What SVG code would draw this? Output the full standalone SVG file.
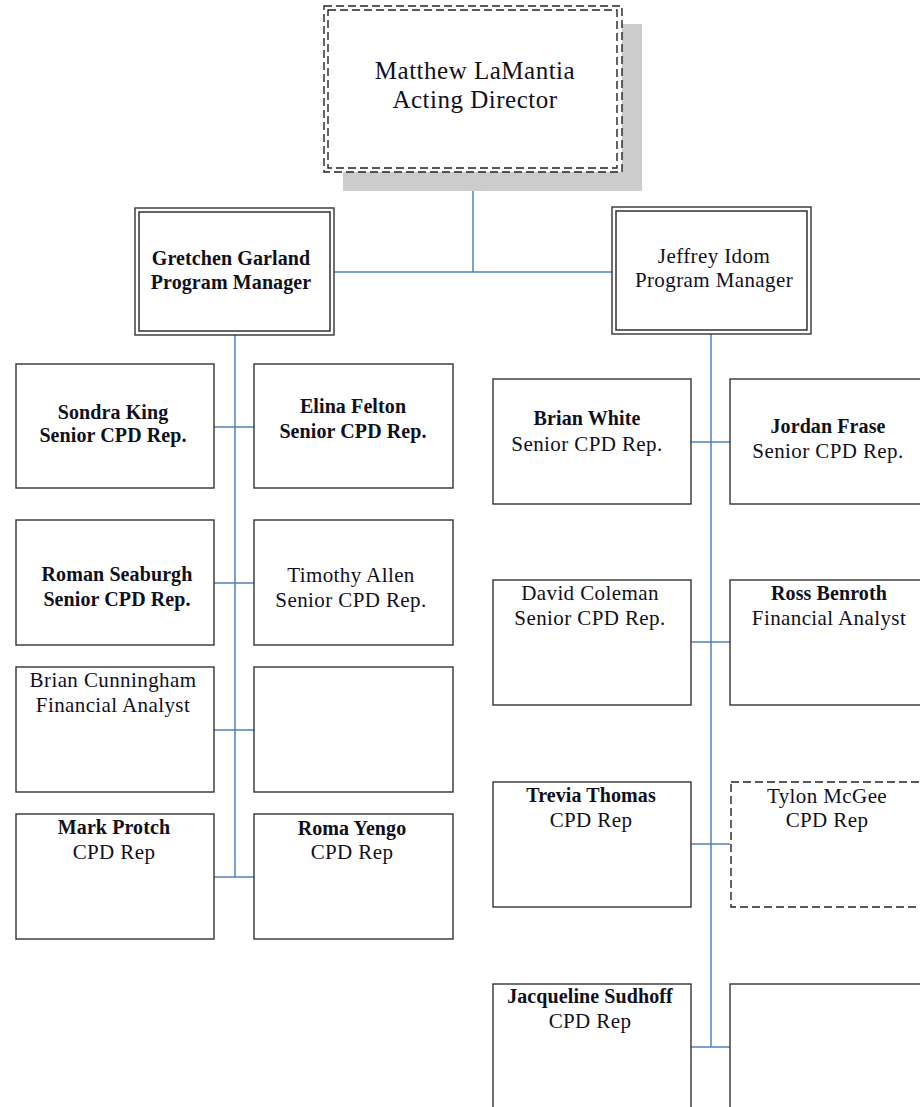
<svg xmlns="http://www.w3.org/2000/svg" width="920" height="1107" viewBox="0 0 920 1107">
<style>
.bx{fill:#fff;stroke:#333;stroke-width:1.4}
.dl{fill:none;stroke:#222;stroke-width:1.4}
.ds{fill:none;stroke:#222;stroke-width:1.4;stroke-dasharray:8 4}
.t{font-family:"Liberation Serif","Times New Roman",serif;font-size:21px;fill:#10101c;text-anchor:middle;letter-spacing:0.4px}
.b{font-weight:bold;font-size:20px;letter-spacing:0.1px}
.big{font-size:25px;letter-spacing:0.5px}
.cn{fill:none;stroke:#4f81bd;stroke-width:1.5}
</style>
<rect width="920" height="1107" fill="#fff"/>
<g id="connectors">
<path class="cn" d="M473 172V272M334 272H612"/>
<path class="cn" d="M235 335V877M214 427H254M214 583H254M214 730H254M214 877H254"/>
<path class="cn" d="M711 334V1047M691 442H730M691 642H730M691 844H730M691 1047H730"/>
</g>
<g id="director">
<rect x="343" y="24" width="299" height="167" fill="#cccccc"/>
<rect x="324" y="6" width="298" height="166" fill="#fff"/>
<rect class="ds" x="324" y="6" width="298" height="166"/>
<rect class="ds" x="328" y="10" width="289" height="158"/>
<text class="t big" x="475" y="79">Matthew LaMantia</text>
<text class="t big" x="475" y="108">Acting Director</text>
</g>
<g id="gretchen">
<rect class="bx" x="135" y="208" width="199" height="127"/>
<rect class="dl" x="139" y="212" width="191" height="119"/>
<text class="t b" x="231" y="265">Gretchen Garland</text>
<text class="t b" x="231" y="289">Program Manager</text>
</g>
<g id="jeffrey">
<rect class="bx" x="612" y="207" width="199" height="127"/>
<rect class="dl" x="616" y="211" width="191" height="119"/>
<text class="t" x="714" y="263">Jeffrey Idom</text>
<text class="t" x="714" y="287">Program Manager</text>
</g>
<g id="sondra">
<rect class="bx" x="16" y="364" width="198" height="124"/>
<text class="t b" x="113" y="419">Sondra King</text>
<text class="t b" x="113" y="442">Senior CPD Rep.</text>
</g>
<g id="elina">
<rect class="bx" x="254" y="364" width="199" height="124"/>
<text class="t b" x="353" y="413">Elina Felton</text>
<text class="t b" x="353" y="438">Senior CPD Rep.</text>
</g>
<g id="roman">
<rect class="bx" x="16" y="520" width="198" height="125"/>
<text class="t b" x="117" y="581">Roman Seaburgh</text>
<text class="t b" x="117" y="606">Senior CPD Rep.</text>
</g>
<g id="timothy">
<rect class="bx" x="254" y="520" width="199" height="125"/>
<text class="t" x="351" y="582">Timothy Allen</text>
<text class="t" x="351" y="607">Senior CPD Rep.</text>
</g>
<g id="briancunningham">
<rect class="bx" x="16" y="667" width="198" height="125"/>
<text class="t" x="113" y="687">Brian Cunningham</text>
<text class="t" x="113" y="712">Financial Analyst</text>
</g>
<g id="emptyleft">
<rect class="bx" x="254" y="667" width="199" height="125"/>
</g>
<g id="mark">
<rect class="bx" x="16" y="814" width="198" height="125"/>
<text class="t b" x="114" y="834">Mark Protch</text>
<text class="t" x="114" y="859">CPD Rep</text>
</g>
<g id="roma">
<rect class="bx" x="254" y="814" width="199" height="125"/>
<text class="t b" x="352" y="835">Roma Yengo</text>
<text class="t" x="352" y="859">CPD Rep</text>
</g>
<g id="brianwhite">
<rect class="bx" x="493" y="379" width="198" height="125"/>
<text class="t b" x="587" y="425">Brian White</text>
<text class="t" x="587" y="451">Senior CPD Rep.</text>
</g>
<g id="jordan">
<rect class="bx" x="730" y="379" width="198" height="125"/>
<text class="t b" x="828" y="433">Jordan Frase</text>
<text class="t" x="828" y="458">Senior CPD Rep.</text>
</g>
<g id="david">
<rect class="bx" x="493" y="580" width="198" height="125"/>
<text class="t" x="590" y="600">David Coleman</text>
<text class="t" x="590" y="625">Senior CPD Rep.</text>
</g>
<g id="ross">
<rect class="bx" x="730" y="580" width="198" height="125"/>
<text class="t b" x="829" y="600">Ross Benroth</text>
<text class="t" x="829" y="625">Financial Analyst</text>
</g>
<g id="trevia">
<rect class="bx" x="493" y="782" width="198" height="125"/>
<text class="t b" x="591" y="802">Trevia Thomas</text>
<text class="t" x="591" y="827">CPD Rep</text>
</g>
<g id="tylon">
<rect class="ds" x="731" y="782" width="198" height="125"/>
<text class="t" x="827" y="803">Tylon McGee</text>
<text class="t" x="827" y="827">CPD Rep</text>
</g>
<g id="jacqueline">
<rect class="bx" x="493" y="984" width="198" height="130"/>
<text class="t b" x="590" y="1003">Jacqueline Sudhoff</text>
<text class="t" x="590" y="1028">CPD Rep</text>
</g>
<g id="emptyright">
<rect class="bx" x="730" y="984" width="198" height="130"/>
</g>
</svg>
